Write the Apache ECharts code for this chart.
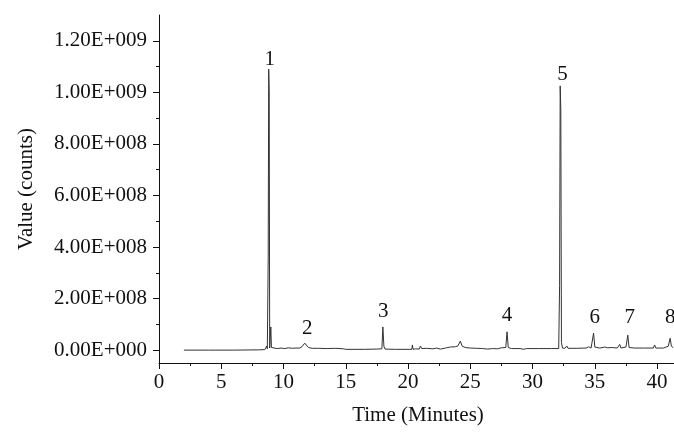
<!DOCTYPE html>
<html>
<head>
<meta charset="UTF-8">
<title>Chromatogram</title>
<script src="https://cdn.jsdelivr.net/npm/echarts@6/dist/echarts.min.js"></script>
<style>
  *{margin:0;padding:0;}
  body{background:#fff;}
  #main{width:674px;height:432px;}
</style>
</head>
<body>
<div id="main"></div>
<script>
// retention time (minutes) and detector counts
var times = [
  2.0, 4.0, 6.0, 8.0, 8.5, 8.6, 8.65, 8.7, 8.74, 8.77, 8.81, 8.85, 8.89, 8.94, 8.98, 9.03, 9.1,
  9.5, 9.8, 10.1, 10.4, 10.7, 11.0, 11.3, 11.5, 11.7, 11.85, 12.0, 12.3, 12.8, 13.5, 14.2, 14.8, 15.0,
  15.5, 16.5, 17.5, 17.9, 17.98, 18.06, 18.15, 19.0, 20.0, 20.3, 20.35, 20.4, 20.6, 20.9, 21.0, 21.1,
  21.5, 22.0, 22.3, 22.6, 23.0, 23.4, 23.8, 24.0, 24.2, 24.35, 24.6, 25.0, 25.5, 26.0, 26.4, 26.8,
  27.2, 27.5, 27.85, 27.95, 28.05, 28.3, 29.0, 29.3, 29.5, 30.5, 31.5, 32.1, 32.17, 32.22, 32.27,
  32.32, 32.4, 32.6, 32.75, 32.85, 33.5, 34.3, 34.5, 34.7, 34.9, 35.0, 35.1, 35.4, 35.8, 36.0, 36.4,
  36.8, 37.0, 37.1, 37.5, 37.65, 37.75, 37.85, 38.2, 39.0, 39.7, 39.8, 39.9, 40.5, 40.9, 41.05, 41.15, 41.3
];
var counts = [
  0, 0, 0, 1e6, 2e6, 5e6, 1.6e7, 5e6, 4e6, 3.6e8, 1.09e9, 1.01e9, 8e6, 1e7, 9e7, 1e7, 8e6,
  6e6, 8e6, 6e6, 9e6, 7e6, 8e6, 8e6, 1.4e7, 2.7e7, 2.5e7, 1e7, 7e6, 7e6, 6e6, 7e6, 5e6, 3e6,
  3e6, 3e6, 4e6, 5e6, 9e7, 1.5e7, 4e6, 3e6, 3e6, 3e6, 2e7, 3e6, 5e6, 4e6, 1.6e7, 6e6,
  7e6, 5e6, 8e6, 4e6, 8e6, 1.2e7, 1.3e7, 1.6e7, 3.5e7, 1.5e7, 1e7, 8e6, 7e6, 6e6, 4e6, 6e6,
  5e6, 9e6, 1e7, 7.1e7, 1e7, 6e6, 6e6, 3e6, 6e6, 6e6, 6e6, 6e6, 2.5e8, 1.025e9, 9.3e8,
  3e7, 8e6, 7e6, 1.6e7, 7e6, 7e6, 8e6, 1.3e7, 8e6, 6.6e7, 1.2e7, 9e6, 8e6, 1.2e7, 9e6, 1e7,
  8e6, 2.2e7, 8e6, 1.2e7, 5.8e7, 1e7, 9e6, 8e6, 8e6, 8e6, 2e7, 8e6, 8e6, 1.5e7, 4.6e7, 1.5e7, 1e7
];

// peak numbers and where their labels sit
var peakNames = ['1', '2', '3', '4', '5', '6', '7', '8'];
var peakLabelX = [8.9, 11.9, 18.0, 27.95, 32.4, 35.0, 37.8, 41.05];
var peakLabelY = [1.126e9, 8.5e7, 1.48e8, 1.36e8, 1.068e9, 1.28e8, 1.28e8, 1.28e8];

// axis ticks
var yTickValues = [0, 2e8, 4e8, 6e8, 8e8, 1e9, 1.2e9];
var yTickLabels = ['0.00E+000', '2.00E+008', '4.00E+008', '6.00E+008', '8.00E+008', '1.00E+009', '1.20E+009'];
var yMinorValues = [1e8, 3e8, 5e8, 7e8, 9e8, 1.1e9];

var myChart = echarts.init(document.getElementById('main'));

var trace = [];
for (var i = 0; i < times.length; i++) {
  trace.push([times[i], counts[i]]);
}
var peaks = [];
for (var j = 0; j < peakNames.length; j++) {
  peaks.push({ name: peakNames[j], value: [peakLabelX[j], peakLabelY[j]] });
}

var serif = '"Liberation Serif", "Times New Roman", serif';
var ink = '#111';

option = {
  animation: false,
  // width runs a little past the canvas so the x axis goes off the picture
  grid: { left: 159, width: 518, top: 15, bottom: 69, outerBoundsMode: 'none' },
  xAxis: {
    type: 'value',
    min: 0,
    max: 41.6,
    interval: 5,
    name: 'Time (Minutes)',
    nameLocation: 'middle',
    nameGap: 42,
    nameTextStyle: { fontFamily: serif, fontSize: 21, color: ink },
    splitLine: { show: false },
    axisLine: { onZero: false, lineStyle: { color: ink, width: 1 } },
    axisTick: { length: 6, lineStyle: { color: ink } },
    minorTick: { show: true, splitNumber: 2, length: 3, lineStyle: { color: ink } },
    axisLabel: {
      fontFamily: serif, fontSize: 21, color: ink, margin: 9,
      formatter: function (v) { return v % 5 === 0 ? String(v) : ''; }
    }
  },
  yAxis: [{
    type: 'value',
    min: -5e7,
    max: 1.3e9,
    name: 'Value (counts)',
    nameLocation: 'middle',
    nameGap: 122,
    nameTextStyle: { fontFamily: serif, fontSize: 21, color: ink },
    splitLine: { show: false },
    axisLine: { show: true, lineStyle: { color: ink, width: 1 } },
    axisTick: { show: true, length: 6, customValues: yTickValues, lineStyle: { color: ink } },
    axisLabel: {
      fontFamily: serif, fontSize: 21, color: ink, margin: 12,
      customValues: yTickValues,
      formatter: function (v) {
        var k = yTickValues.indexOf(v);
        return k >= 0 ? yTickLabels[k] : '';
      }
    }
  }, {
    type: 'value',
    position: 'left',
    min: -5e7,
    max: 1.3e9,
    splitLine: { show: false },
    axisLine: { show: false },
    axisLabel: { show: false },
    axisTick: { show: true, length: 3, customValues: yMinorValues, lineStyle: { color: ink } }
  }],
  series: [{
    type: 'line',
    data: trace,
    showSymbol: false,
    symbol: 'none',
    lineStyle: { color: '#333', width: 1 },
    z: 2
  }, {
    type: 'scatter',
    data: peaks,
    symbolSize: 0,
    silent: true,
    clip: false,
    itemStyle: { opacity: 1 },
    label: {
      show: true,
      position: 'inside',
      formatter: '{b}',
      fontFamily: serif,
      fontSize: 21,
      color: ink
    }
  }]
};

myChart.setOption(option);
</script>
</body>
</html>
